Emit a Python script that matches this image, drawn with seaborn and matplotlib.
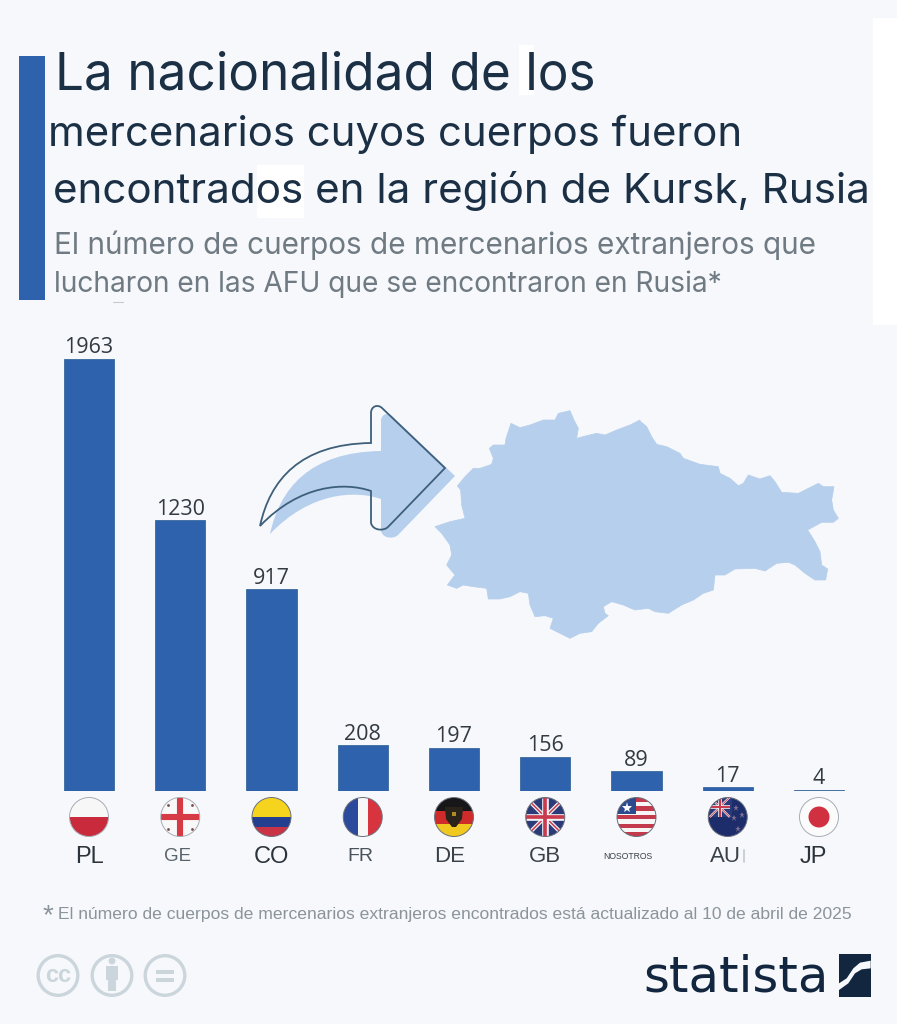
import numpy as np
import matplotlib
matplotlib.use('Agg')
import matplotlib.pyplot as plt
import seaborn as sns
from matplotlib.patches import Circle, Rectangle, Polygon, PathPatch
from matplotlib.path import Path

# Data
codes = ['PL', 'GE', 'CO', 'FR', 'DE', 'GB', 'NOSOTROS', 'AU', 'JP']
bodies = [1963, 1230, 917, 208, 197, 156, 89, 17, 4]

title_lines = ['La nacionalidad de los',
               'mercenarios cuyos cuerpos fueron',
               'encontrados en la región de Kursk, Rusia']
subtitle_lines = ['El número de cuerpos de mercenarios extranjeros que',
                  'lucharon en las AFU que se encontraron en Rusia*']
footnote = 'El número de cuerpos de mercenarios extranjeros encontrados está actualizado al 10 de abril de 2025'

BG = '#f6f8fc'
BLUE = '#2f62ad'
LIGHT = '#b6cfec'
NAVY = '#1b2f45'
GREY = '#6f7a82'
ICON = '#cbd5dc'
LOGO = '#12263f'

sns.set_theme(style='white')
plt.rcParams['font.family'] = ['Liberation Sans', 'DejaVu Sans']

W, H = 897, 1024
fig = plt.figure(figsize=(W / 100, H / 100), dpi=100, facecolor=BG)

# Background axes in pixel coordinates for everything decorative
bg = fig.add_axes([0, 0, 1, 1], zorder=0)
bg.set_xlim(0, W)
bg.set_ylim(H, 0)
bg.axis('off')

# Bar axes lined up with the reference pixels
left, right, top, base = 43.4, 864.6, 340.0, 791.0
ax = fig.add_axes([left / W, 1 - base / H, (right - left) / W, (base - top) / H], zorder=2)
ax.patch.set_alpha(0)
sns.barplot(x=codes, y=bodies, color=BLUE, saturation=1, width=0.55, ax=ax,
            edgecolor='#3a6a9c', linewidth=0.6)
ax.set_xlim(-0.5, 8.5)
ax.set_ylim(0, (base - top) / 0.22)
ax.set_xlabel('')
ax.set_ylabel('')
ax.set_yticks([])
sns.despine(ax=ax, left=True, bottom=True)
for cont in ax.containers:
    ax.bar_label(cont, labels=[str(v) for v in bodies], padding=0.5, fontsize=15.5,
                 color='#333a42', family='Open Sans')

# Tick labels sit a little off the bar centres and differ in size in the source
tick_shift = [0, -0.03, 0, -0.03, -0.05, 0, -0.09, -0.03, -0.06]
tick_sizes = [17, 13.5, 17, 14, 16, 16, 6.2, 16, 17]
tick_colors = ['#2c333a', '#5a636b', '#2c333a', '#4a535b', '#3a4148', '#3a4148', '#3a4148', '#3a4148', '#2c333a']
ax.set_xticks(np.arange(len(codes)) + np.array(tick_shift))
ax.set_xticklabels(codes)
ax.tick_params(axis='x', length=0, pad=47.5)
for lab, size, col in zip(ax.get_xticklabels(), tick_sizes, tick_colors):
    lab.set_fontsize(size)
    lab.set_color(col)
    lab.set_verticalalignment('center')


def fit_text(x, y, s, width, color, family=None, size=20, **kw):
    # scale the font so the string covers the given pixel width
    t = bg.text(x, y, s, color=color, fontsize=size, va='baseline', ha='left', **kw)
    if family:
        t.set_family(family)
    ext = t.get_window_extent(fig.canvas.get_renderer())
    t.set_fontsize(size * width / ext.width)
    return t


# White patches left by the source image
for rect in [(873, 18, 24, 307), (519, 45, 15, 50), (257, 165, 47, 53)]:
    bg.add_patch(Rectangle((rect[0], rect[1]), rect[2], rect[3], color='white', lw=0, zorder=1))

# Header
bg.add_patch(Rectangle((19, 56), 26, 244, color=BLUE, lw=0, zorder=2))
fit_text(55, 89, title_lines[0], 540, NAVY, family='Inter', zorder=3)
fit_text(48, 146, title_lines[1], 693, NAVY, family='Inter', zorder=3)
fit_text(53, 203, title_lines[2], 817, NAVY, family='Inter', zorder=3)
fit_text(54, 254, subtitle_lines[0], 763, GREY, family='Inter', zorder=3)
fit_text(54, 292, subtitle_lines[1], 671, GREY, family='Inter', zorder=3)
bg.plot([113, 123], [302, 302], color='#c4cad0', lw=0.8, zorder=3)

# Footnote
bg.text(43, 923, '*', fontsize=20, color='#8b949b', va='baseline', zorder=3)
fit_text(58, 919, footnote, 792, '#8b949b', zorder=3)

# Arrow (shadow first, then outline)
arrow_verts = [(260, 526), (270, 480), (300, 444), (371, 443), (371, 413),
               (371, 406), (378, 404), (382, 408), (445, 468), (388, 527),
               (384, 531), (373, 531), (371, 523), (371, 491), (345, 482),
               (300, 484), (260, 526), (260, 526)]
arrow_codes = [Path.MOVETO, Path.CURVE4, Path.CURVE4, Path.CURVE4, Path.LINETO,
               Path.CURVE4, Path.CURVE4, Path.CURVE4, Path.LINETO, Path.LINETO,
               Path.CURVE4, Path.CURVE4, Path.CURVE4, Path.LINETO, Path.CURVE4,
               Path.CURVE4, Path.CURVE4, Path.CLOSEPOLY]
shadow = [(x + 10, y + 8) for x, y in arrow_verts]
bg.add_patch(PathPatch(Path(shadow, arrow_codes), facecolor=LIGHT, lw=0, zorder=2))
bg.add_patch(PathPatch(Path(arrow_verts, arrow_codes), facecolor='none', edgecolor='#3e5f7a', lw=1.3, zorder=3))

map_west_top = [(82, 243), (105, 215), (130, 190), (150, 190), (185, 178), (190, 160), (178, 130), (190, 120),
                (225, 120), (228, 100), (243, 55), (270, 68), (300, 60), (340, 45), (375, 45), (385, 25),
                (420, 17), (432, 45), (445, 70), (440, 100), (470, 92), (500, 85), (525, 90), (560, 75),
                (600, 60), (630, 45)]
map_east = [(15, 48), (35, 65), (50, 95), (65, 118), (95, 125), (135, 145), (145, 160), (195, 178), (250, 185),
            (255, 205), (285, 220), (310, 242), (325, 235), (340, 210), (375, 222), (405, 212), (420, 230),
            (440, 262), (490, 265), (520, 250), (550, 235), (565, 245), (597, 245), (590, 285), (595, 315),
            (610, 340), (595, 352), (560, 352), (518, 375), (540, 410), (555, 440), (560, 480), (578, 492),
            (572, 525), (540, 525), (510, 505), (480, 480), (460, 472), (425, 475), (390, 498), (360, 490),
            (300, 492), (270, 510), (240, 510), (235, 555), (205, 565), (175, 585), (140, 600), (100, 625),
            (60, 620), (40, 610), (0, 615)]
map_west_bottom = [(580, 600), (545, 590), (520, 605), (525, 625), (535, 632), (505, 655), (485, 680), (450, 685),
                   (420, 700), (390, 685), (360, 670), (370, 640), (345, 632), (315, 635), (300, 600), (295, 565),
                   (270, 560), (240, 575), (210, 582), (175, 582), (170, 550), (130, 545), (100, 540), (80, 550),
                   (52, 540), (75, 510), (50, 480), (65, 450), (60, 420), (35, 385), (15, 365), (60, 350),
                   (105, 340), (95, 300), (92, 255)]
map_px = ([(430 + x / 3, 405 + y / 3) for x, y in map_west_top]
          + [(635 + x / 3, 405 + y / 3) for x, y in map_east]
          + [(430 + x / 3, 405 + y / 3) for x, y in map_west_bottom])
bg.add_patch(Polygon(map_px, closed=True, facecolor=LIGHT, edgecolor=LIGHT, lw=0.5, zorder=2))


# Flags
def stripes(cx, cy, r, clip, fracs, colors, vertical=False):
    pos = 0
    for f, c in zip(fracs, colors):
        if vertical:
            p = Rectangle((cx - r + pos * 2 * r, cy - r), f * 2 * r, 2 * r, color=c, lw=0, zorder=3)
        else:
            p = Rectangle((cx - r, cy - r + pos * 2 * r), 2 * r, f * 2 * r, color=c, lw=0, zorder=3)
        bg.add_patch(p)
        p.set_clip_path(clip)
        pos += f


def clipped(clip, artist):
    bg.add_artist(artist) if isinstance(artist, plt.Line2D) else bg.add_patch(artist)
    artist.set_clip_path(clip)


def line(cx, cy, clip, pts, color, lw):
    xs, ys = zip(*[(cx + a, cy + b) for a, b in pts])
    ln = plt.Line2D(xs, ys, color=color, lw=lw, zorder=4, solid_capstyle='butt')
    clipped(clip, ln)


def union_jack(cx, cy, clip, s, w):
    for sign in (1, -1):
        line(cx, cy, clip, [(-s, -s * sign), (s, s * sign)], '#f3f3f5', w * 1.2)
        line(cx, cy, clip, [(-s, -s * sign), (s, s * sign)], '#c93a4e', w * 0.45)
    line(cx, cy, clip, [(-s, 0), (s, 0)], '#f3f3f5', w * 2)
    line(cx, cy, clip, [(0, -s), (0, s)], '#f3f3f5', w * 2)
    line(cx, cy, clip, [(-s, 0), (s, 0)], '#c93a4e', w * 1.1)
    line(cx, cy, clip, [(0, -s), (0, s)], '#c93a4e', w * 1.1)


def draw_flag(code, cx, cy=817, r=19.5):
    clip = Circle((cx, cy), r, transform=bg.transData)
    if code == 'PL':
        stripes(cx, cy, r, clip, [0.5, 0.5], ['#f7f7f8', '#c92a3c'])
    elif code == 'GE':
        bg.add_patch(Circle((cx, cy), r, color='#f8f8f8', lw=0, zorder=3))
        line(cx, cy, clip, [(-r, 0), (r, 0)], '#d63a45', 4.4)
        line(cx, cy, clip, [(0, -r), (0, r)], '#d63a45', 4.4)
        for dx, dy in [(-12, -12), (12, -12), (-12, 12), (12, 12)]:
            bg.plot(cx + dx, cy + dy, marker='o', ms=2, color='#7a4a50', mew=0, zorder=5)
    elif code == 'CO':
        stripes(cx, cy, r, clip, [0.5, 0.25, 0.25], ['#f6d31c', '#243f8f', '#c93345'])
    elif code == 'FR':
        stripes(cx, cy, r, clip, [0.37, 0.26, 0.37], ['#2c4a9c', '#f7f7f8', '#d8343f'], vertical=True)
    elif code == 'DE':
        stripes(cx, cy, r, clip, [0.34, 0.34, 0.32], ['#17171a', '#cf2b2b', '#f0c81f'])
        clipped(clip, Polygon([(cx - 9, cy - 10), (cx + 9, cy - 10), (cx + 8, cy + 2), (cx + 2, cy + 10),
                               (cx - 2, cy + 10), (cx - 8, cy + 2)], color='#2a231a', lw=0, zorder=4))
        bg.plot(cx, cy - 3, marker='s', ms=3, color='#b08a25', mew=0, zorder=5)
    elif code == 'GB':
        bg.add_patch(Circle((cx, cy), r, color='#2b3a78', lw=0, zorder=3))
        union_jack(cx, cy, clip, r, 2.4)
    elif code == 'NOSOTROS':
        colors = ['#c23a4b' if i % 2 == 0 else '#f6f6f7' for i in range(9)]
        stripes(cx, cy, r, clip, [1 / 9] * 9, colors)
        clipped(clip, Rectangle((cx - r, cy - r), r * 0.95, r * 0.85, color='#2c4a8e', lw=0, zorder=4))
        bg.plot(cx - 10, cy - 9, marker='*', ms=8, color='white', mew=0, zorder=5)
    elif code == 'AU':
        bg.add_patch(Circle((cx, cy), r, color='#1d2d6b', lw=0, zorder=3))
        clipped(clip, Rectangle((cx - r, cy - r), r + 4, r, color='#2b3a78', lw=0, zorder=3.5))
        union_jack(cx - 8, cy - 10, clip, 10, 1.3)
        for dx, dy in [(8, -9), (6, 1), (14, -2), (10, 12)]:
            bg.plot(cx + dx, cy + dy, marker='*', ms=4.5, color='#7f6f90', mew=0, zorder=5)
    elif code == 'JP':
        bg.add_patch(Circle((cx, cy), r, color='#fbfbfb', lw=0, zorder=3))
        bg.add_patch(Circle((cx, cy), 10.5, color='#d0303f', lw=0, zorder=4))
    edge = '#a6adb4' if code in ('PL', 'GE', 'JP') else '#6a707a'
    bg.add_patch(Circle((cx, cy), r, facecolor='none', edgecolor=edge, lw=0.7, zorder=6))


for i, code in enumerate(codes):
    draw_flag(code, 89 + 91.25 * i)

# Stray mark next to the AU label in the source
bg.plot([744, 744], [850, 862], color='#c3c8cd', lw=1.2, zorder=3)

# Creative commons icons
for cx in (58, 112, 165):
    bg.add_patch(Circle((cx, 975.5), 19.8, facecolor='none', edgecolor=ICON, lw=2.4, zorder=3))
bg.text(58, 975, 'cc', fontsize=17, fontweight='bold', color=ICON, ha='center', va='center', zorder=3)
bg.add_patch(Circle((112, 961), 3.4, color=ICON, lw=0, zorder=3))
bg.add_patch(Rectangle((106, 966), 12, 14, color=ICON, lw=0, zorder=3))
bg.add_patch(Rectangle((108, 980), 8, 11, color=ICON, lw=0, zorder=3))
bg.add_patch(Rectangle((156, 970), 18, 3.5, color=ICON, lw=0, zorder=3))
bg.add_patch(Rectangle((156, 978), 18, 3.5, color=ICON, lw=0, zorder=3))

# Statista logo
fit_text(643, 991, 'statista', 185, LOGO, family='DejaVu Sans', zorder=3)
bg.add_patch(Rectangle((839, 954), 32, 43, color=LOGO, lw=0, zorder=3))
logo_band = [(692, 62), (660, 68), (640, 85), (620, 115), (597, 130), (597, 150), (625, 130), (645, 100),
             (665, 88), (692, 85)]
bg.add_patch(Polygon([(640 + x / 3, 940 + y / 3) for x, y in logo_band], color=BG, lw=0, zorder=4))

fig.savefig('out.png', dpi=100, facecolor=BG)
